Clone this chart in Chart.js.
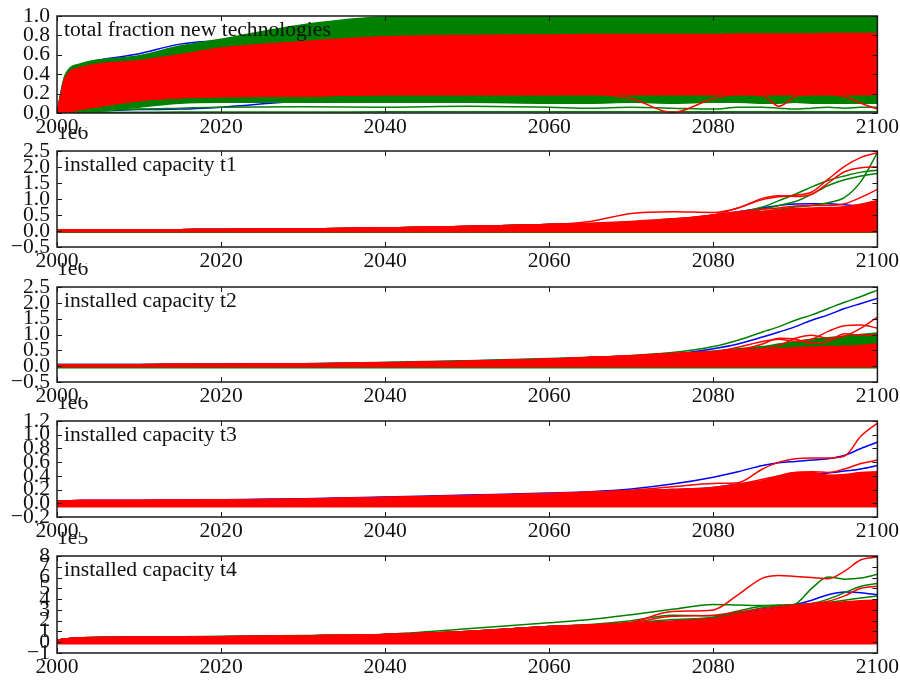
<!DOCTYPE html>
<html>
<head>
<meta charset="utf-8">
<script src="https://cdn.jsdelivr.net/npm/chart.js@4.4.1/dist/chart.umd.min.js"></script>
<style>
  html, body { margin: 0; padding: 0; background: #fff; overflow: hidden; }
  #wrap { position: relative; width: 900px; height: 680px; }
  .panel { position: absolute; left: 0; width: 900px; }
</style>
</head>
<body>
<div id="wrap"></div>
<script>
// Sample years shared by every run
const years = [2000, 2001, 2003, 2010, 2015, 2020, 2030, 2040, 2050, 2060, 2065, 2070, 2075, 2080, 2083, 2086, 2088, 2090, 2092, 2094, 2096, 2098, 2100];
const xTicks = [2000, 2020, 2040, 2060, 2080, 2100];

// Panel 1: total fraction of new technologies
const fracTicks = [0, 0.2, 0.4, 0.6, 0.8, 1.0];
const fracGreenHi = [0, 0.39, 0.51, 0.59, 0.69, 0.76, 0.91, 0.99, 0.997, 0.997, 0.997, 0.997, 0.997, 0.997, 0.997, 0.997, 0.997, 0.997, 0.997, 0.997, 0.997, 0.997, 0.997];
const fracGreenLo = [0, 0.002, 0.01, 0.06, 0.1, 0.11, 0.11, 0.11, 0.11, 0.1, 0.1, 0.11, 0.1, 0.11, 0.11, 0.1, 0.1, 0.11, 0.1, 0.1, 0.1, 0.1, 0.1];
const fracRedHi = [0, 0.36, 0.47, 0.54, 0.6, 0.67, 0.735, 0.785, 0.8, 0.805, 0.81, 0.81, 0.81, 0.81, 0.815, 0.815, 0.815, 0.815, 0.815, 0.82, 0.82, 0.82, 0.82];
const fracRedLo = [0, 0.01, 0.04, 0.13, 0.16, 0.17, 0.175, 0.19, 0.19, 0.19, 0.195, 0.19, 0.19, 0.19, 0.19, 0.19, 0.19, 0.19, 0.19, 0.19, 0.19, 0.19, 0.19];
const fracRedDipA = [0, 0.01, 0.04, 0.13, 0.16, 0.17, 0.175, 0.19, 0.19, 0.19, 0.19, 0.15, 0.005, 0.15, 0.19, 0.19, 0.19, 0.19, 0.19, 0.19, 0.19, 0.19, 0.19];
const fracRedDipB = [0, 0.01, 0.04, 0.13, 0.16, 0.17, 0.175, 0.19, 0.19, 0.19, 0.19, 0.19, 0.19, 0.19, 0.19, 0.18, 0.07, 0.17, 0.19, 0.19, 0.17, 0.1, 0.04];
const fracGreenGapA = [0, 0.005, 0.012, 0.04, 0.05, 0.06, 0.065, 0.06, 0.07, 0.06, 0.05, 0.06, 0.05, 0.04, 0.06, 0.06, 0.05, 0.04, 0.05, 0.06, 0.05, 0.06, 0.06];
const fracGreenGapB = [0, 0.002, 0.004, 0.008, 0.01, 0.01, 0.01, 0.012, 0.012, 0.012, 0.012, 0.012, 0.012, 0.012, 0.012, 0.012, 0.012, 0.012, 0.012, 0.012, 0.012, 0.012, 0.012];
const fracBlueHi = [0, 0.38, 0.5, 0.61, 0.71, 0.75, 0.85, 0.9, 0.92, 0.93, 0.93, 0.93, 0.93, 0.93, 0.93, 0.93, 0.93, 0.93, 0.93, 0.93, 0.93, 0.93, 0.93];
const fracBlueLo = [0, 0.001, 0.01, 0.035, 0.04, 0.06, 0.12, 0.13, 0.13, 0.13, 0.13, 0.13, 0.13, 0.13, 0.13, 0.13, 0.13, 0.13, 0.13, 0.13, 0.13, 0.13, 0.13];

// Panel 2: installed capacity t1 (x 1e6)
const capTicks = [-0.5, 0, 0.5, 1.0, 1.5, 2.0, 2.5];
const t1RedLo = [-0.02, -0.02, -0.02, -0.02, -0.02, -0.02, -0.02, -0.02, -0.02, -0.02, -0.02, -0.02, -0.02, -0.02, -0.02, -0.02, -0.02, -0.02, -0.02, -0.02, -0.02, -0.02, -0.02];
const t1RedHi = [0.03, 0.03, 0.03, 0.03, 0.04, 0.05, 0.06, 0.09, 0.14, 0.2, 0.23, 0.26, 0.35, 0.5, 0.56, 0.62, 0.66, 0.7, 0.72, 0.73, 0.76, 0.84, 0.95];
const t1GreenBase = [-0.04, -0.04, -0.04, -0.04, -0.04, -0.04, -0.04, -0.04, -0.04, -0.04, -0.04, -0.04, -0.04, -0.04, -0.04, -0.04, -0.04, -0.04, -0.04, -0.04, -0.04, -0.04, -0.04];
const t1RedA = [0.03, 0.03, 0.03, 0.03, 0.04, 0.05, 0.06, 0.09, 0.14, 0.2, 0.24, 0.3, 0.38, 0.5, 0.72, 0.98, 1.07, 1.12, 1.22, 1.62, 2.02, 2.3, 2.45];
const t1RedB = [0.03, 0.03, 0.03, 0.03, 0.04, 0.05, 0.06, 0.09, 0.14, 0.2, 0.3, 0.55, 0.6, 0.58, 0.72, 1.02, 1.1, 1.08, 1.15, 1.5, 1.85, 1.98, 2.0];
const t1RedC = [0.03, 0.03, 0.03, 0.03, 0.04, 0.05, 0.06, 0.09, 0.14, 0.2, 0.23, 0.27, 0.36, 0.5, 0.6, 0.68, 0.72, 0.78, 0.8, 0.8, 0.85, 1.05, 1.3];
const t1GreenA = [0.03, 0.03, 0.03, 0.03, 0.04, 0.05, 0.06, 0.09, 0.14, 0.2, 0.23, 0.27, 0.35, 0.48, 0.58, 0.75, 0.95, 1.15, 1.38, 1.58, 1.72, 1.84, 1.9];
const t1GreenB = [0.03, 0.03, 0.03, 0.03, 0.04, 0.05, 0.06, 0.09, 0.14, 0.2, 0.23, 0.27, 0.38, 0.45, 0.55, 0.68, 0.8, 0.92, 1.15, 1.42, 1.6, 1.72, 1.8];
const t1GreenC = [0.03, 0.03, 0.03, 0.03, 0.04, 0.05, 0.06, 0.09, 0.14, 0.2, 0.23, 0.26, 0.34, 0.46, 0.52, 0.6, 0.68, 0.75, 0.8, 0.88, 1.05, 1.55, 2.45];
const t1BlueA = [0.03, 0.03, 0.03, 0.03, 0.04, 0.05, 0.06, 0.09, 0.14, 0.2, 0.23, 0.26, 0.34, 0.5, 0.6, 0.72, 0.8, 0.84, 0.85, 0.85, 0.82, 0.78, 0.82];

// Panel 3: installed capacity t2 (x 1e6)
const t2RedLo = [-0.02, -0.02, -0.02, -0.02, -0.02, -0.02, -0.02, -0.02, -0.02, -0.02, -0.02, -0.02, -0.02, -0.02, -0.02, -0.02, -0.02, -0.02, -0.02, -0.02, -0.02, -0.02, -0.02];
const t2RedHi = [0.04, 0.04, 0.04, 0.045, 0.05, 0.055, 0.07, 0.1, 0.15, 0.22, 0.27, 0.32, 0.38, 0.45, 0.5, 0.52, 0.55, 0.58, 0.6, 0.62, 0.63, 0.65, 0.7];
const t2GreenBase = [-0.05, -0.05, -0.05, -0.05, -0.05, -0.05, -0.05, -0.05, -0.05, -0.05, -0.05, -0.05, -0.05, -0.05, -0.05, -0.05, -0.05, -0.05, -0.05, -0.05, -0.05, -0.05, -0.05];
const t2GreenHi = [0.04, 0.04, 0.04, 0.045, 0.05, 0.055, 0.07, 0.1, 0.15, 0.22, 0.27, 0.32, 0.38, 0.48, 0.55, 0.62, 0.7, 0.78, 0.85, 0.9, 0.95, 1.0, 1.05];
const t2GreenTop = [0.05, 0.05, 0.05, 0.055, 0.06, 0.065, 0.08, 0.12, 0.17, 0.24, 0.28, 0.34, 0.43, 0.62, 0.82, 1.08, 1.25, 1.45, 1.62, 1.82, 2.02, 2.2, 2.4];
const t2BlueTop = [0.05, 0.05, 0.05, 0.055, 0.06, 0.065, 0.08, 0.11, 0.16, 0.23, 0.27, 0.31, 0.38, 0.55, 0.7, 0.92, 1.08, 1.25, 1.45, 1.62, 1.82, 1.98, 2.14];
const t2RedA = [0.04, 0.04, 0.04, 0.045, 0.05, 0.055, 0.07, 0.1, 0.15, 0.22, 0.27, 0.32, 0.4, 0.45, 0.6, 0.78, 0.85, 0.78, 0.85, 1.1, 1.28, 1.3, 1.2];
const t2RedB = [0.04, 0.04, 0.04, 0.045, 0.05, 0.055, 0.07, 0.1, 0.15, 0.22, 0.27, 0.32, 0.38, 0.44, 0.5, 0.55, 0.65, 0.88, 0.98, 0.88, 0.95, 1.2, 1.55];
const t2RedC = [0.04, 0.04, 0.04, 0.045, 0.05, 0.055, 0.07, 0.1, 0.15, 0.22, 0.27, 0.33, 0.4, 0.46, 0.5, 0.7, 0.88, 0.85, 0.72, 0.78, 1.02, 0.98, 1.0];

// Panel 4: installed capacity t3 (x 1e6)
const t3Ticks = [-0.2, 0, 0.2, 0.4, 0.6, 0.8, 1.0, 1.2];
const t3RedLo = [-0.05, -0.05, -0.05, -0.05, -0.05, -0.05, -0.05, -0.05, -0.05, -0.05, -0.05, -0.05, -0.05, -0.05, -0.05, -0.05, -0.05, -0.05, -0.05, -0.05, -0.05, -0.05, -0.05];
const t3RedHi = [0.03, 0.035, 0.04, 0.04, 0.045, 0.05, 0.06, 0.085, 0.11, 0.14, 0.16, 0.18, 0.2, 0.22, 0.27, 0.33, 0.4, 0.45, 0.45, 0.41, 0.42, 0.45, 0.46];
const t3BlueA = [0.03, 0.035, 0.04, 0.04, 0.045, 0.05, 0.065, 0.09, 0.12, 0.15, 0.17, 0.21, 0.28, 0.38, 0.46, 0.55, 0.59, 0.61, 0.63, 0.65, 0.7, 0.8, 0.89];
const t3BlueB = [0.03, 0.035, 0.04, 0.04, 0.045, 0.05, 0.06, 0.085, 0.11, 0.14, 0.16, 0.18, 0.2, 0.23, 0.28, 0.32, 0.38, 0.4, 0.42, 0.44, 0.47, 0.5, 0.55];
const t3RedA = [0.03, 0.035, 0.04, 0.04, 0.045, 0.05, 0.06, 0.085, 0.11, 0.14, 0.16, 0.19, 0.24, 0.29, 0.3, 0.5, 0.6, 0.65, 0.66, 0.66, 0.69, 0.98, 1.17];
const t3RedB = [0.03, 0.035, 0.04, 0.04, 0.045, 0.05, 0.06, 0.085, 0.11, 0.14, 0.16, 0.18, 0.2, 0.23, 0.28, 0.35, 0.4, 0.45, 0.46, 0.45, 0.5, 0.58, 0.63];

// Panel 5: installed capacity t4 (x 1e5)
const t4Ticks = [-1, 0, 1, 2, 3, 4, 5, 6, 7, 8];
const t4RedLo = [-0.15, -0.15, -0.15, -0.15, -0.15, -0.15, -0.15, -0.15, -0.15, -0.15, -0.15, -0.15, -0.15, -0.15, -0.15, -0.15, -0.15, -0.15, -0.15, -0.15, -0.15, -0.15, -0.15];
const t4RedHi = [0.2, 0.3, 0.42, 0.47, 0.48, 0.5, 0.6, 0.72, 1.0, 1.45, 1.6, 1.75, 1.95, 2.2, 2.6, 2.95, 3.15, 3.35, 3.5, 3.65, 3.75, 3.85, 3.9];
const t4GreenA = [0.2, 0.3, 0.42, 0.48, 0.5, 0.55, 0.62, 0.75, 1.25, 1.8, 2.1, 2.55, 3.05, 3.5, 3.45, 3.4, 3.4, 3.45, 3.55, 3.7, 3.9, 4.1, 4.3];
const t4GreenB = [0.2, 0.3, 0.42, 0.47, 0.48, 0.5, 0.6, 0.72, 1.0, 1.45, 1.6, 1.8, 2.1, 2.3, 2.7, 3.2, 3.35, 3.55, 5.0, 6.05, 5.85, 5.95, 6.3];
const t4GreenC = [0.2, 0.3, 0.42, 0.47, 0.48, 0.5, 0.6, 0.72, 1.0, 1.45, 1.65, 2.0, 2.5, 2.45, 2.9, 3.35, 3.45, 3.5, 3.6, 4.0, 4.6, 5.2, 5.45];
const t4RedA = [0.2, 0.3, 0.42, 0.47, 0.48, 0.5, 0.6, 0.72, 1.0, 1.45, 1.6, 1.85, 2.85, 3.0, 4.4, 5.95, 6.2, 6.1, 6.0, 5.9, 6.6, 7.65, 7.9];
const t4RedB = [0.2, 0.3, 0.42, 0.47, 0.48, 0.5, 0.6, 0.72, 1.0, 1.45, 1.6, 1.8, 2.4, 2.5, 2.8, 3.1, 3.3, 3.45, 3.6, 3.8, 4.3, 5.0, 5.2];
const t4BlueA = [0.2, 0.3, 0.42, 0.47, 0.48, 0.5, 0.6, 0.72, 1.0, 1.45, 1.6, 1.75, 1.95, 2.3, 2.7, 3.0, 3.2, 3.5, 3.9, 4.4, 4.65, 4.6, 4.4];

const RED = '#ff0000', GREEN = '#008000', BLUE = '#0000ff';
const FAMILY = '"Liberation Serif", "Times New Roman", serif';
const FONT_PX = 21.6;

// Layers are listed back to front; a band fills between its two edges.
const panels = [
  { title: 'total fraction new technologies', top: 16, bottom: 113, ticks: fracTicks, dec: 1, offset: '',
    layers: [
      { line: fracBlueHi, color: BLUE }, { line: fracBlueLo, color: BLUE },
      { band: [fracGreenLo, fracGreenHi], color: GREEN },
      { line: fracGreenGapA, color: GREEN }, { line: fracGreenGapB, color: GREEN },
      { line: fracRedDipA, color: RED }, { line: fracRedDipB, color: RED },
      { band: [fracRedLo, fracRedHi], color: RED }
    ] },
  { title: 'installed capacity t1', top: 151, bottom: 247, ticks: capTicks, dec: 1, offset: '1e6',
    layers: [
      { line: t1GreenBase, color: GREEN }, { line: t1BlueA, color: BLUE },
      { line: t1GreenA, color: GREEN }, { line: t1GreenB, color: GREEN }, { line: t1GreenC, color: GREEN },
      { band: [t1RedLo, t1RedHi], color: RED },
      { line: t1RedA, color: RED }, { line: t1RedB, color: RED }, { line: t1RedC, color: RED }
    ] },
  { title: 'installed capacity t2', top: 287, bottom: 382, ticks: capTicks, dec: 1, offset: '1e6',
    layers: [
      { line: t2GreenBase, color: GREEN },
      { band: [t2RedLo, t2GreenHi], color: GREEN },
      { line: t2BlueTop, color: BLUE }, { line: t2GreenTop, color: GREEN },
      { band: [t2RedLo, t2RedHi], color: RED },
      { line: t2RedA, color: RED }, { line: t2RedB, color: RED }, { line: t2RedC, color: RED }
    ] },
  { title: 'installed capacity t3', top: 421, bottom: 517, ticks: t3Ticks, dec: 1, offset: '1e6',
    layers: [
      { line: t3BlueA, color: BLUE }, { line: t3BlueB, color: BLUE },
      { band: [t3RedLo, t3RedHi], color: RED },
      { line: t3RedA, color: RED }, { line: t3RedB, color: RED }
    ] },
  { title: 'installed capacity t4', top: 556, bottom: 653, ticks: t4Ticks, dec: 0, offset: '1e5',
    layers: [
      { line: t4BlueA, color: BLUE },
      { line: t4GreenA, color: GREEN }, { line: t4GreenB, color: GREEN }, { line: t4GreenC, color: GREEN },
      { band: [t4RedLo, t4RedHi], color: RED },
      { line: t4RedA, color: RED }, { line: t4RedB, color: RED }
    ] }
];

function pts(vals) { return vals.map((v, i) => ({ x: years[i], y: v })); }

function makeDatasets(layers) {
  const ds = [];
  layers.forEach(l => {
    if (l.band) {
      ds.push({ data: pts(l.band[0]), borderColor: l.color, fill: false });
      ds.push({ data: pts(l.band[1]), borderColor: l.color, backgroundColor: l.color, fill: '-1' });
    } else {
      ds.push({ data: pts(l.line), borderColor: l.color, fill: false });
    }
  });
  const n = ds.length;
  ds.forEach((d, i) => {
    d.order = n - i;
    d.borderWidth = 1.5;
    d.pointRadius = 0;
    d.cubicInterpolationMode = 'monotone';
  });
  return ds;
}

function fmt(v, dec) {
  if (Math.abs(v) < 1e-9) v = 0;
  return Number(v).toFixed(dec).replace('-', '\u2212');
}

const wrap = document.getElementById('wrap');
const PAD_TOP = 24, AXIS_H = 26, Y_W = 57, PAD_RIGHT = 22;

panels.forEach(p => {
  const div = document.createElement('div');
  div.className = 'panel';
  div.style.top = (p.top - PAD_TOP) + 'px';
  div.style.height = (p.bottom - p.top + PAD_TOP + AXIS_H) + 'px';
  const cv = document.createElement('canvas');
  div.appendChild(cv);
  wrap.appendChild(div);

  const decor = {
    id: 'decor',
    afterDatasetsDraw(chart) {
      const { ctx, chartArea: a, scales } = chart;
      ctx.save();
      // panel title, inside the axes at the top left
      ctx.font = FONT_PX + 'px ' + FAMILY;
      ctx.fillStyle = '#111';
      ctx.textBaseline = 'alphabetic';
      ctx.textAlign = 'left';
      ctx.fillText(p.title, a.left + 7, a.top + 20);
      // inward tick marks on all four sides
      ctx.strokeStyle = '#1a1a1a';
      ctx.lineWidth = 1;
      ctx.beginPath();
      scales.x.ticks.forEach(t => {
        const x = Math.round(scales.x.getPixelForValue(t.value)) + 0.5;
        ctx.moveTo(x, a.bottom); ctx.lineTo(x, a.bottom - 5);
        ctx.moveTo(x, a.top); ctx.lineTo(x, a.top + 5);
      });
      scales.y.ticks.forEach(t => {
        const y = Math.round(scales.y.getPixelForValue(t.value)) + 0.5;
        ctx.moveTo(a.left, y); ctx.lineTo(a.left + 5, y);
        ctx.moveTo(a.right, y); ctx.lineTo(a.right - 5, y);
      });
      ctx.stroke();
      // axes frame
      ctx.lineWidth = 1.5;
      ctx.strokeRect(a.left, a.top, a.right - a.left, a.bottom - a.top);
      ctx.restore();
    },
    afterDraw(chart) {
      if (!p.offset) return;
      const { ctx, chartArea: a } = chart;
      ctx.save();
      ctx.font = FONT_PX + 'px ' + FAMILY;
      ctx.fillStyle = '#111';
      ctx.textBaseline = 'alphabetic';
      ctx.textAlign = 'left';
      ctx.fillText(p.offset, a.left, a.top - 12);
      ctx.restore();
    }
  };

  new Chart(cv, {
    type: 'line',
    data: { datasets: makeDatasets(p.layers) },
    options: {
      responsive: true,
      maintainAspectRatio: false,
      animation: false,
      events: [],
      layout: { padding: { top: PAD_TOP, left: 0, right: PAD_RIGHT, bottom: 0 } },
      plugins: { legend: { display: false }, tooltip: { enabled: false }, filler: { propagate: false } },
      scales: {
        x: {
          type: 'linear', min: 2000, max: 2100,
          afterBuildTicks: s => { s.ticks = xTicks.map(v => ({ value: v })); },
          afterFit: s => { s.height = AXIS_H; },
          grid: { display: false, drawTicks: false },
          border: { display: false },
          ticks: { autoSkip: false, maxRotation: 0, padding: 1, color: '#111',
                   font: { family: FAMILY, size: FONT_PX }, callback: v => String(v) }
        },
        y: {
          type: 'linear', min: p.ticks[0], max: p.ticks[p.ticks.length - 1],
          afterBuildTicks: s => { s.ticks = p.ticks.map(v => ({ value: v })); },
          afterFit: s => { s.width = Y_W; },
          grid: { display: false, drawTicks: false },
          border: { display: false },
          ticks: { autoSkip: false, padding: 7, color: '#111',
                   font: { family: FAMILY, size: FONT_PX }, callback: v => fmt(v, p.dec) }
        }
      }
    },
    plugins: [decor]
  });
});
</script>
</body>
</html>
